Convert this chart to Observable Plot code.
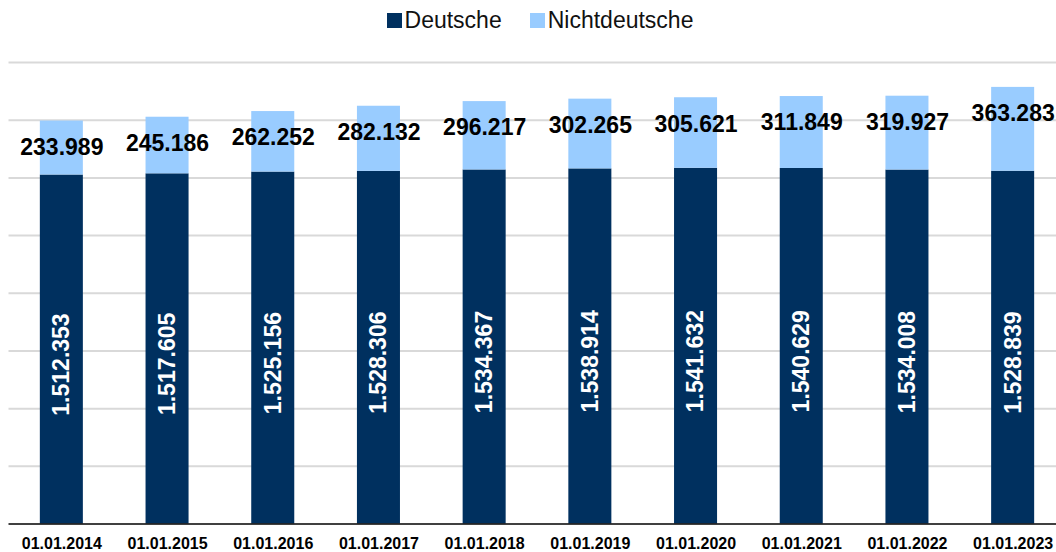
<!DOCTYPE html>
<html>
<head>
<meta charset="utf-8">
<script src="https://cdn.jsdelivr.net/npm/d3@7"></script>
<script src="https://cdn.jsdelivr.net/npm/@observablehq/plot@0.6"></script>
<style>
  html, body { margin: 0; padding: 0; background: #fff; }
  body { width: 1056px; height: 552px; overflow: hidden; font-family: "Liberation Sans", Arial, sans-serif; }
  #legend { height: 40px; display: flex; justify-content: center; align-items: center; font-size: 23px; color: #111; padding-left: 24px; box-sizing: border-box; }
  .item { display: flex; align-items: center; margin: 0 14px; }
  .sw { width: 15px; height: 15px; margin-right: 3px; }
  #chart svg { display: block; overflow: visible; }
</style>
</head>
<body>
<div id="legend"></div>
<div id="chart"></div>
<script>
const dates = ["01.01.2014","01.01.2015","01.01.2016","01.01.2017","01.01.2018","01.01.2019","01.01.2020","01.01.2021","01.01.2022","01.01.2023"];
const deutsche = [1512353,1517605,1525156,1528306,1534367,1538914,1541632,1540629,1534008,1528839];
const nichtdeutsche = [233989,245186,262252,282132,296217,302265,305621,311849,319927,363283];
const seriesNames = ["Deutsche","Nichtdeutsche"];
const colors = ["#00305f","#99ccff"];
const gridTicks = [250000,500000,750000,1000000,1250000,1500000,1750000,2000000];

const fmt = d3.formatLocale({decimal: ",", thousands: ".", grouping: [3], currency: ["", "€"]}).format(",d");

const rows = [];
dates.forEach((d, i) => {
  rows.push({date: d, series: seriesNames[0], value: deutsche[i]});
  rows.push({date: d, series: seriesNames[1], value: nichtdeutsche[i]});
});
const totals = dates.map((d, i) => ({date: d, total: deutsche[i] + nichtdeutsche[i], label: fmt(nichtdeutsche[i])}));
const mids = dates.map((d, i) => ({date: d, mid: deutsche[i] / 2, label: fmt(deutsche[i])}));

// legend
const lg = document.getElementById("legend");
seriesNames.forEach((s, i) => {
  const it = document.createElement("div");
  it.className = "item";
  const sw = document.createElement("div");
  sw.className = "sw";
  sw.style.background = colors[i];
  const t = document.createElement("span");
  t.textContent = s;
  it.appendChild(sw); it.appendChild(t);
  lg.appendChild(it);
});

const chart = Plot.plot({
  width: 1056,
  height: 512,
  marginTop: 22,
  marginBottom: 28.5,
  marginLeft: 8.5,
  marginRight: 0,
  style: {fontFamily: "Liberation Sans, Arial, sans-serif", background: "#fff"},
  x: {domain: dates, range: [8.5, 1065.5], paddingInner: 0.593, paddingOuter: 0.2965, round: false, label: null},
  y: {domain: [0, 2000000], axis: null},
  color: {domain: seriesNames, range: colors},
  marks: [
    Plot.ruleY(gridTicks, {stroke: "#d9d9d9", strokeWidth: 2}),
    Plot.barY(rows, {x: "date", y: "value", fill: "series", order: seriesNames}),
    Plot.ruleY([0], {stroke: "#000", strokeWidth: 1.5}),
    Plot.text(totals, {x: "date", y: "total", text: "label", dy: 26.5, fontSize: 23, fontWeight: "bold", fill: "#000"}),
    Plot.text(mids, {x: "date", y: "mid", text: "label", rotate: -90, dy: 15, fontSize: 23, fontWeight: "bold", fill: "#fff"}),
    Plot.axisX({tickSize: 0, tickPadding: 14, fontSize: 16, fontWeight: "bold", label: null, color: "#000"})
  ]
});
document.getElementById("chart").appendChild(chart);
</script>
</body>
</html>
